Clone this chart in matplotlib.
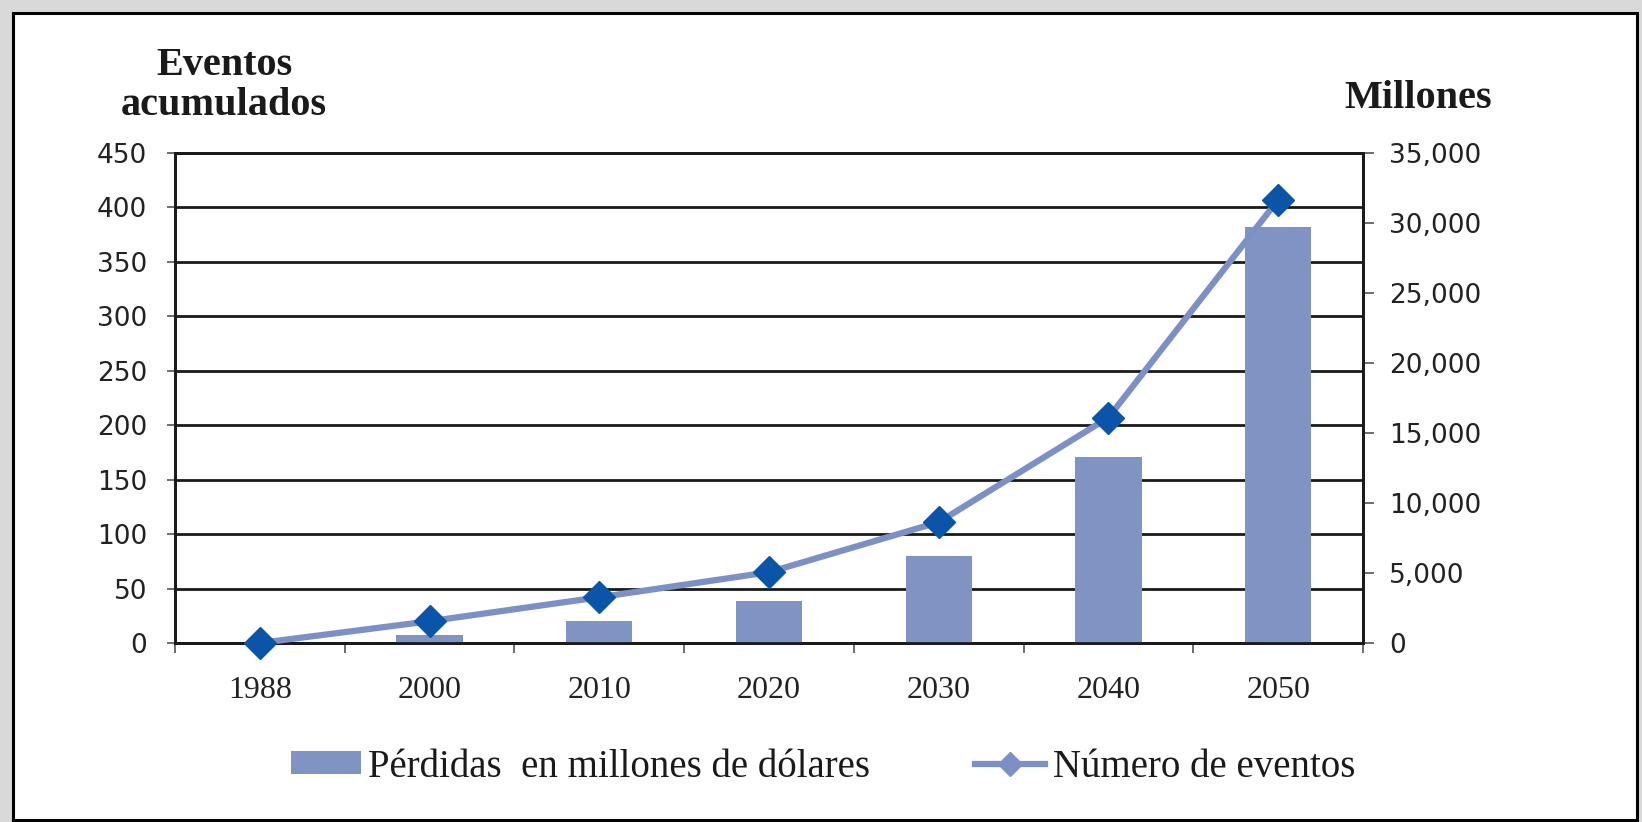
import matplotlib.pyplot as plt
from matplotlib.patches import Rectangle, Patch
from matplotlib.lines import Line2D
from matplotlib.ticker import FuncFormatter, FixedLocator

# Datos
anios = ['1988', '2000', '2010', '2020', '2030', '2040', '2050']
eventos = [0, 20, 42, 65, 111, 207, 407]            # eventos acumulados (eje izq.)
perdidas = [0, 570, 1600, 3000, 6200, 13300, 29700]  # millones de dólares (eje der.)

color_barra = '#8094c4'
color_linea = '#7d90c6'
color_marca = '#0b55a8'
serif = 'Liberation Serif'
sans = 'DejaVu Sans'

W, H = 1642, 822
fig = plt.figure(figsize=(W / 100, H / 100), dpi=100, facecolor='#d9d9d9')

# Marco blanco con borde negro
fig.patches.append(Rectangle((13 / W, 2 / H), (1637 - 13) / W, (820 - 13) / H,
                             transform=fig.transFigure, facecolor='white',
                             edgecolor='black', linewidth=2.2, zorder=-5))

ax = fig.add_axes([175 / W, 1 - 643 / H, (1363 - 175) / W, 490 / H])
ax.set_facecolor('none')
x = list(range(len(anios)))

# Eje izquierdo: rejilla
ax.set_xlim(-0.5, len(anios) - 0.5)
ax.set_ylim(0, 450)
ax.set_yticks(range(0, 451, 50))
ax.grid(axis='y', color='#1a1a1a', linewidth=2.0)
ax.set_axisbelow(True)
ax.set_xticks(x)
ax.set_xticklabels(anios, fontfamily=serif, fontsize=23, color='#222222')
ax.xaxis.set_minor_locator(FixedLocator([i + 0.5 for i in range(-1, len(anios))]))
ax.tick_params(axis='x', which='major', length=0, pad=24)
ax.tick_params(axis='x', which='minor', length=7, width=1.2, color='#555555')
ax.tick_params(axis='y', length=6, width=1.2, color='#555555', pad=14,
               labelsize=19, labelcolor='#222222')
for t in ax.get_yticklabels():
    t.set_fontfamily(sans)
for s in ax.spines.values():
    s.set_color('#1a1a1a')
    s.set_linewidth(2.0)

# Eje derecho: barras
ax2 = ax.twinx()
ax2.bar(x, perdidas, width=0.39, color=color_barra, zorder=2)
ax2.set_ylim(0, 35000)
ax2.set_yticks(range(0, 35001, 5000))
ax2.yaxis.set_major_formatter(FuncFormatter(lambda v, p: f'{int(v):,}'))
ax2.tick_params(axis='y', length=8, width=1.2, color='#555555', pad=11,
                labelsize=19, labelcolor='#222222')
for t in ax2.get_yticklabels():
    t.set_fontfamily(sans)
for s in ax2.spines.values():
    s.set_color('#1a1a1a')
    s.set_linewidth(2.0)

# Línea de eventos encima de las barras
ax3 = ax.twinx()
ax3.set_ylim(ax.get_ylim())
ax3.plot(x, eventos, color=color_linea, linewidth=4.5, marker='D', markersize=16,
         markerfacecolor=color_marca, markeredgecolor=color_marca, zorder=3,
         clip_on=False)
ax3.set_yticks([])
for s in ax3.spines.values():
    s.set_visible(False)

# Títulos de los ejes
fig.text(224 / W, 1 - 75 / H, 'Eventos', ha='center', va='baseline',
         fontfamily=serif, fontweight='bold', fontsize=29, color='#1a1a1a')
fig.text(224 / W, 1 - 115 / H, 'acumulados', ha='center', va='baseline',
         fontfamily=serif, fontweight='bold', fontsize=29, color='#1a1a1a')
fig.text(1418 / W, 1 - 108 / H, 'Millones', ha='center', va='baseline',
         fontfamily=serif, fontweight='bold', fontsize=29, color='#1a1a1a')

# Leyenda
handles = [Patch(facecolor=color_barra, edgecolor='none'),
           Line2D([0], [0], color=color_linea, linewidth=4.5, marker='D',
                  markersize=12, markerfacecolor=color_linea,
                  markeredgecolor=color_linea)]
labels = ['Pérdidas  en millones de dólares', 'Número de eventos']
fig.legend(handles, labels, loc='center', bbox_to_anchor=(823 / W, 1 - 767 / H),
           ncol=2, frameon=False, prop={'family': serif, 'size': 28},
           handlelength=1.8, handleheight=0.55, handletextpad=0.2,
           columnspacing=2.7, labelcolor='#1a1a1a')

fig.savefig('out.png', dpi=100, facecolor=fig.get_facecolor())
